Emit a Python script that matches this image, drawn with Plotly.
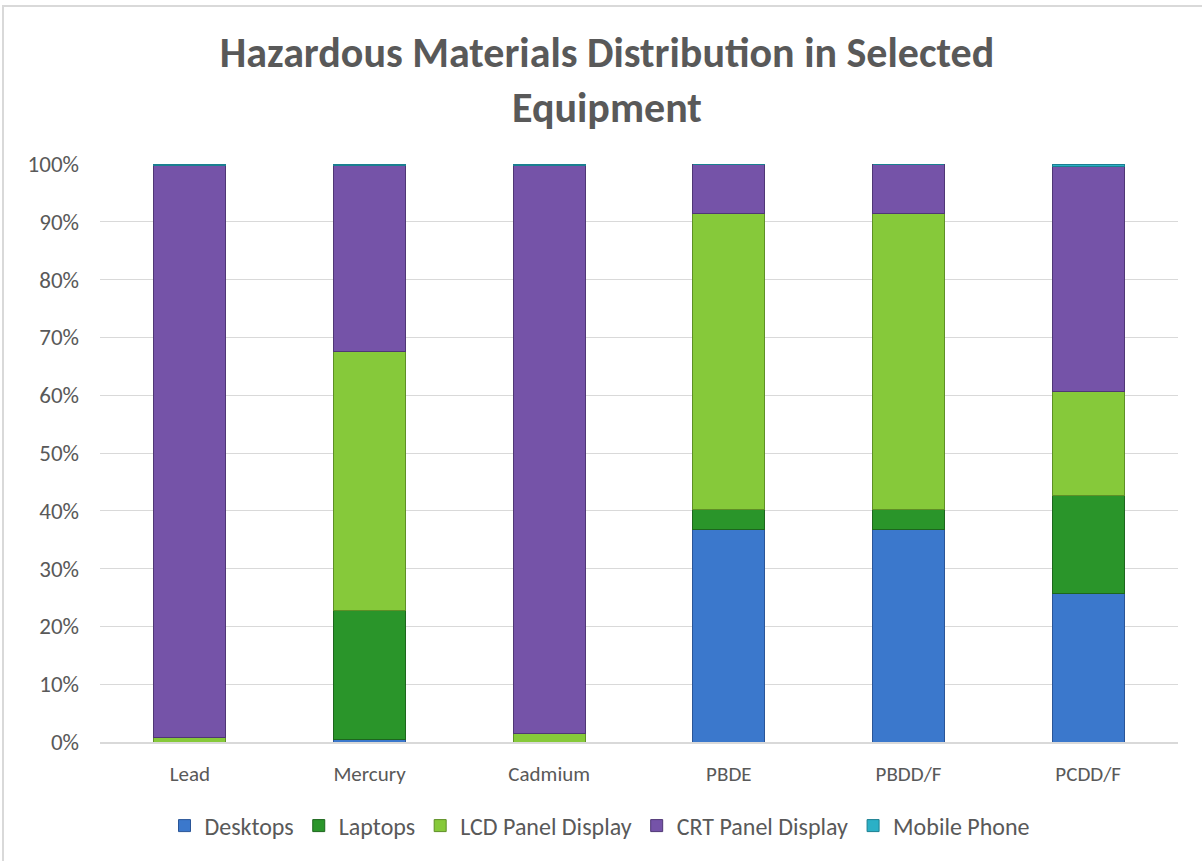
import plotly.graph_objects as go

# Hazardous material shares (fraction of total) by equipment type
materials = ["Lead", "Mercury", "Cadmium", "PBDE", "PBDD/F", "PCDD/F"]
desktops = [0.000, 0.004, 0.000, 0.368, 0.368, 0.257]
laptops = [0.000, 0.224, 0.000, 0.034, 0.034, 0.169]
lcd_panel = [0.008, 0.448, 0.014, 0.513, 0.513, 0.180]
crt_panel = [0.990, 0.322, 0.984, 0.085, 0.085, 0.390]
mobile_phone = [0.002, 0.002, 0.002, 0.000, 0.000, 0.004]

series = [
    ("Desktops", desktops, "#3b78cc", "#2a5597"),
    ("Laptops", laptops, "#2a952a", "#1d661d"),
    ("LCD Panel Display", lcd_panel, "#86c93a", "#5e8f26"),
    ("CRT Panel Display", crt_panel, "#7553a8", "#4f3775"),
    ("Mobile Phone", mobile_phone, "#2bb0c6", "#1b7f90"),
]

fig = go.Figure()
for name, vals, fill, edge in series:
    fig.add_trace(go.Bar(
        name=name,
        x=materials,
        y=vals,
        marker=dict(color=fill, line=dict(color=edge, width=1)),
    ))

font_family = "Carlito, Open Sans, sans-serif"
grey = "#595959"

W, H = 1202, 861
L, R, T, B = 100, 24, 164, 119
pw, ph = W - L - R, H - T - B

fig.update_layout(
    width=W,
    height=H,
    barmode="stack",
    bargap=0.6,
    paper_bgcolor="white",
    plot_bgcolor="white",
    margin=dict(l=L, r=R, t=T, b=B),
    font=dict(family=font_family, color=grey, size=21),
    title=dict(
        text="Hazardous Materials Distribution in Selected<br>Equipment",
        x=0.505,
        xanchor="center",
        y=1 - 67 / H,
        yanchor="middle",
        yref="container",
        font=dict(family=font_family, size=42, color=grey, weight="bold"),
    ),
    legend=dict(
        orientation="h",
        x=(600 - L) / pw,
        xanchor="center",
        y=-(826 - (H - B)) / ph,
        yanchor="middle",
        font=dict(size=24, color=grey),
        traceorder="normal",
    ),
    xaxis=dict(
        showgrid=False,
        showline=True,
        linecolor="#d9d9d9",
        linewidth=2,
        ticks="",
        ticklabelstandoff=12,
        tickfont=dict(size=21),
    ),
    yaxis=dict(
        range=[0, 1],
        tickformat=".0%",
        dtick=0.1,
        showgrid=True,
        gridcolor="#d9d9d9",
        gridwidth=1,
        zeroline=False,
        showline=False,
        ticks="",
        ticklabelstandoff=20,
        tickfont=dict(size=23),
    ),
    shapes=[
        dict(
            type="rect",
            xref="paper",
            yref="paper",
            x0=(3 - L) / pw,
            x1=(W + 10 - L) / pw,
            y0=-(H + 10 - (H - B)) / ph,
            y1=1 + (T - 6) / ph,
            line=dict(color="#d9d9d9", width=2),
            fillcolor="rgba(0,0,0,0)",
            layer="below",
        )
    ],
)

fig.write_html("out.html")
